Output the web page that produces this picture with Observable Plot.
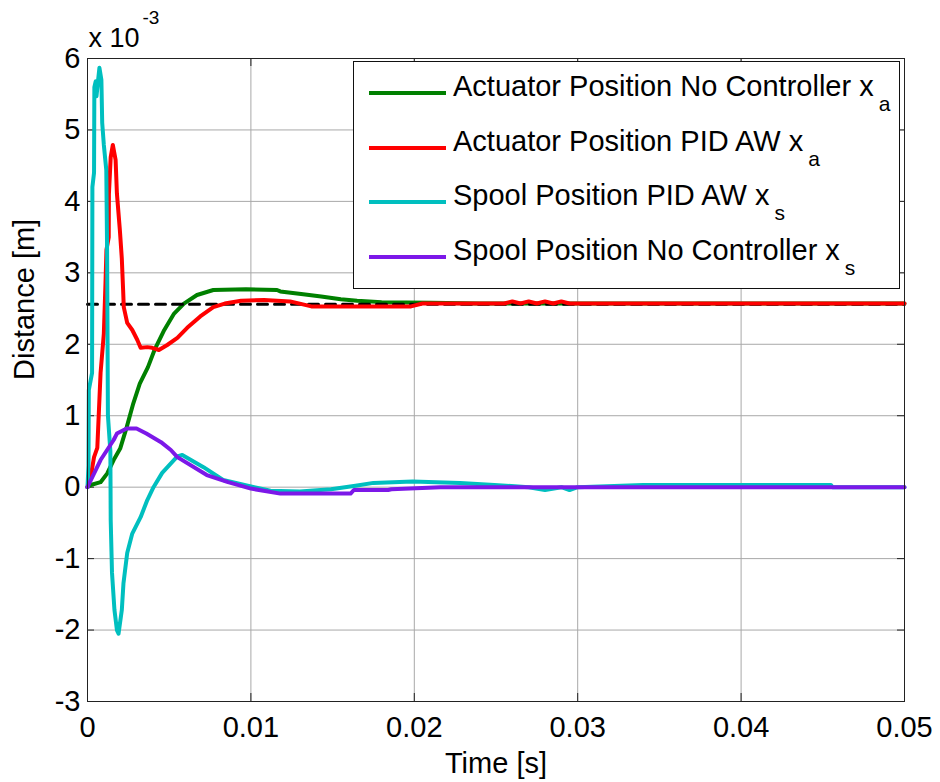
<!DOCTYPE html>
<html><head><meta charset="utf-8">
<script src="https://cdn.jsdelivr.net/npm/d3@7"></script>
<script src="https://cdn.jsdelivr.net/npm/@observablehq/plot@0.6"></script>
<style>
body{margin:0;background:#fff;}
#wrap{position:relative;width:940px;height:782px;font-family:"Liberation Sans",Arial,sans-serif;}
#legend{position:absolute;left:353px;top:61px;width:545px;height:226px;border:1px solid #111;background:#fff;}
.row{position:absolute;left:0;height:40px;line-height:40px;font-size:29px;white-space:nowrap;color:#000}
.sw{position:absolute;left:15px;width:77px;height:4px}
.sub{position:relative;top:15px;font-size:21px;margin-left:5px}
</style></head>
<body><div id="wrap"></div>
<script>
// ---- data (time in s, distance in 1e-3 m) ----
const xTicks = [0, 0.01, 0.02, 0.03, 0.04, 0.05];
const xTickLabels = ["0", "0.01", "0.02", "0.03", "0.04", "0.05"];
const yTicks = [-3, -2, -1, 0, 1, 2, 3, 4, 5, 6];
const yTickLabels = ["-3", "-2", "-1", "0", "1", "2", "3", "4", "5", "6"];

const seriesNames = [
  ["Actuator Position No Controller x", "a"],
  ["Actuator Position PID AW x", "a"],
  ["Spool Position PID AW x", "s"],
  ["Spool Position No Controller x", "s"]
];
const seriesColors = ["#008000", "#ff0000", "#00bfbf", "#7c18e8"];

const actuatorNoCtrl = [[0,0],[0.0002,0.03],[0.0008,0.07],[0.0012,0.19],[0.0016,0.38],[0.002,0.54],[0.0024,0.84],[0.0028,1.17],[0.0032,1.45],[0.0037,1.68],[0.0041,1.92],[0.0047,2.2],[0.0053,2.43],[0.0059,2.57],[0.0067,2.69],[0.0077,2.76],[0.0097,2.77],[0.0116,2.76],[0.0118,2.74],[0.0132,2.70],[0.0143,2.67],[0.0155,2.63],[0.0165,2.61],[0.018,2.59],[0.021,2.58],[0.024,2.57],[0.05,2.57]];

const actuatorPID = [[0,0],[0.0002,0.15],[0.0004,0.42],[0.0006,0.55],[0.0008,1.6],[0.001,2.15],[0.0011,2.85],[0.00116,3.32],[0.0013,3.5],[0.00131,4.1],[0.00142,4.62],[0.00155,4.79],[0.00172,4.58],[0.0018,4.11],[0.00198,3.6],[0.0021,3.2],[0.00218,2.76],[0.00222,2.52],[0.00243,2.3],[0.00274,2.2],[0.00305,2.06],[0.00325,1.95],[0.00366,1.96],[0.00396,1.95],[0.00437,1.92],[0.00488,1.99],[0.0055,2.09],[0.0061,2.23],[0.0069,2.39],[0.0077,2.52],[0.0084,2.57],[0.0094,2.61],[0.0108,2.62],[0.0124,2.6],[0.0137,2.53],[0.0198,2.53],[0.0205,2.57],[0.0255,2.57],[0.026,2.6],[0.0265,2.57],[0.027,2.6],[0.0275,2.57],[0.028,2.6],[0.0285,2.57],[0.029,2.6],[0.0295,2.57],[0.05,2.57]];

const spoolPID = [[0,0],[0.00006,0.3],[0.00008,1.36],[0.00028,1.6],[0.0003,4.2],[0.0004,4.4],[0.00042,5.6],[0.0005,5.68],[0.00055,5.47],[0.00065,5.7],[0.00073,5.87],[0.00085,5.7],[0.0009,5.1],[0.001,4.79],[0.00115,4.44],[0.0012,3.3],[0.00125,1.0],[0.0014,0.5],[0.00142,-0.46],[0.0015,-1.2],[0.00165,-1.72],[0.0018,-2.0],[0.0019,-2.05],[0.0021,-1.72],[0.0022,-1.35],[0.00243,-0.92],[0.00274,-0.65],[0.00325,-0.42],[0.00366,-0.18],[0.00404,0],[0.00457,0.2],[0.0055,0.43],[0.0058,0.45],[0.0071,0.28],[0.0083,0.1],[0.0102,0],[0.0112,-0.05],[0.013,-0.06],[0.0149,-0.03],[0.0164,0.02],[0.0175,0.06],[0.0199,0.08],[0.0228,0.06],[0.0249,0.03],[0.027,0],[0.028,-0.04],[0.029,0],[0.0295,-0.04],[0.030,0],[0.034,0.03],[0.0455,0.03],[0.0456,0],[0.05,0]];

const spoolNoCtrl = [[0,0],[0.0001,0.05],[0.0008,0.38],[0.0016,0.66],[0.0018,0.75],[0.0024,0.82],[0.0030,0.82],[0.0036,0.75],[0.0045,0.63],[0.0051,0.52],[0.0055,0.42],[0.0073,0.17],[0.0086,0.07],[0.01,-0.02],[0.0118,-0.09],[0.0134,-0.09],[0.0161,-0.09],[0.0163,-0.04],[0.0184,-0.04],[0.0186,-0.03],[0.0216,0],[0.05,0]];

const reference = [[0,2.56],[0.05,2.56]];

const font = "'Liberation Sans', Arial, sans-serif";
const X = d => d[0], Y = d => d[1];

const chart = Plot.plot({
  width: 940, height: 782,
  marginLeft: 87, marginRight: 36, marginTop: 58, marginBottom: 81,
  style: {fontFamily: font, fontSize: "29px", background: "white", overflow: "visible", color: "#000"},
  x: {domain: [0, 0.05]},
  y: {domain: [-3, 6]},
  marks: [
    Plot.gridX(xTicks, {stroke: "#a8a8a8", strokeOpacity: 1, strokeWidth: 1}),
    Plot.gridY(yTicks, {stroke: "#a8a8a8", strokeOpacity: 1, strokeWidth: 1}),
    Plot.tickX(xTicks, {x: d => d, insetTop: 635, stroke: "#222"}),
    Plot.tickX(xTicks, {x: d => d, insetBottom: 635, stroke: "#222"}),
    Plot.tickY(yTicks, {y: d => d, insetRight: 810, stroke: "#222"}),
    Plot.tickY(yTicks, {y: d => d, insetLeft: 810, stroke: "#222"}),
    Plot.axisX(xTicks, {tickSize: 0, tickPadding: 15, tickFormat: d => xTickLabels[xTicks.indexOf(d)], label: null, fontSize: 29}),
    Plot.axisY(yTicks, {tickSize: 0, tickPadding: 7, tickFormat: d => yTickLabels[yTicks.indexOf(d)], label: null, fontSize: 29}),
    Plot.line(actuatorNoCtrl, {x: X, y: Y, stroke: seriesColors[0], strokeWidth: 4}),
    Plot.line(reference, {x: X, y: Y, stroke: "#000", strokeWidth: 3, strokeDasharray: "10,7"}),
    Plot.line(actuatorPID, {x: X, y: Y, stroke: seriesColors[1], strokeWidth: 4}),
    Plot.line(spoolPID, {x: X, y: Y, stroke: seriesColors[2], strokeWidth: 4}),
    Plot.line(spoolNoCtrl, {x: X, y: Y, stroke: seriesColors[3], strokeWidth: 4}),
    Plot.frame({stroke: "#222", strokeWidth: 1}),
    Plot.text(["Time [s]"], {frameAnchor: "bottom", dy: 71, fontSize: 29}),
    Plot.text(["Distance [m]"], {frameAnchor: "left", dx: -63, rotate: -90, fontSize: 29}),
    Plot.text(["x 10"], {frameAnchor: "top-left", textAnchor: "start", dx: 1, dy: -31, fontSize: 27}),
    Plot.text(["-3"], {frameAnchor: "top-left", textAnchor: "start", dx: 55, dy: -48, fontSize: 19})
  ]
});

const wrap = document.getElementById("wrap");
wrap.appendChild(chart);

const legend = document.createElement("div");
legend.id = "legend";
seriesNames.forEach((nm, i) => {
  const baseline = 35 + i * 54.5;
  const sw = document.createElement("div");
  sw.className = "sw";
  sw.style.top = (baseline - 6) + "px";
  sw.style.background = seriesColors[i];
  legend.appendChild(sw);
  const row = document.createElement("div");
  row.className = "row";
  row.style.top = (baseline - 31) + "px";
  row.style.left = "99px";
  row.innerHTML = nm[0] + '<span class="sub">' + nm[1] + '</span>';
  legend.appendChild(row);
});
wrap.appendChild(legend);
</script>
</body></html>
